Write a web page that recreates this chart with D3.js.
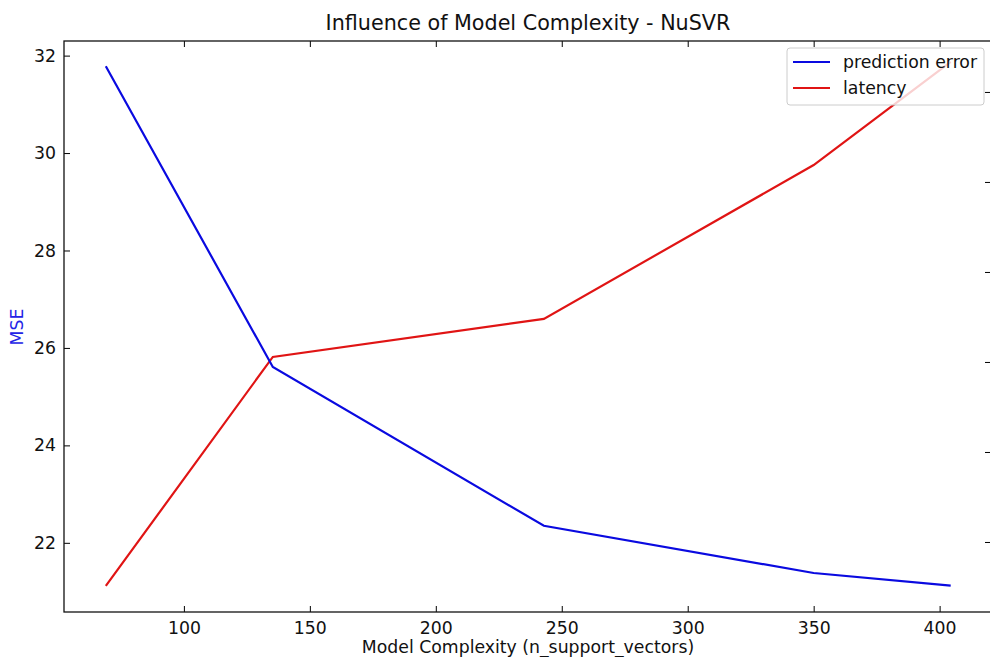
<!DOCTYPE html>
<html><head><meta charset="utf-8">
<script src="https://cdn.jsdelivr.net/npm/d3@7"></script>
<style>
html,body{margin:0;padding:0;background:#fff;}
svg{display:block;font-family:"DejaVu Sans",sans-serif;}
</style></head>
<body>
<svg id="c" width="990" height="657"></svg>
<script>
const complexity = [69.0, 135.3, 242.9, 350.0, 404.4];
const predictionError = [31.78, 25.61, 22.35, 21.38, 21.12];
const latency = [75.6, 202.8, 223.9, 309.4, 366.7];
const xTicks = [100, 150, 200, 250, 300, 350, 400];
const yTicks = [22, 24, 26, 28, 30, 32];
const latencyTicks = [100, 150, 200, 250, 300, 350];
const seriesNames = ["prediction error", "latency"];
const seriesColors = ["#0a0ae0", "#e01414"];

const svg = d3.select("#c");
const L = 64, R = 991, T = 41, B = 612;
const x = d3.scaleLinear().domain([52.4, 420.4]).range([L, R]);
const y = d3.scaleLinear().domain([20.58, 32.30]).range([B, T]);
const y2 = d3.scaleLinear().domain([61.1, 378.3]).range([B, T]);

const fs = 17.3;
// axes
const gx = svg.append("g").attr("transform", `translate(0,${B})`)
  .call(d3.axisBottom(x).tickValues(xTicks).tickSize(-6).tickPadding(10).tickFormat(d3.format("d")));
const gxt = svg.append("g").attr("transform", `translate(0,${T})`)
  .call(d3.axisTop(x).tickValues(xTicks).tickSize(-6).tickFormat(""));
const gy = svg.append("g").attr("transform", `translate(${L},0)`)
  .call(d3.axisLeft(y).tickValues(yTicks).tickSize(-6).tickPadding(8).tickFormat(d3.format("d")));
const gy2 = svg.append("g").attr("transform", `translate(${R},0)`)
  .call(d3.axisRight(y2).tickValues(latencyTicks).tickSize(-6).tickFormat(""));
[gx, gxt, gy, gy2].forEach(g => {
  g.select(".domain").remove();
  g.selectAll("line").attr("stroke", "#000").attr("stroke-width", 1);
  g.selectAll("text").attr("font-size", fs).attr("font-family", "DejaVu Sans").attr("fill", "#111");
});
gx.selectAll("text").attr("dy", "0.71em");
// spines
svg.append("rect").attr("x", L).attr("y", T).attr("width", R - L).attr("height", B - T)
  .attr("fill", "none").attr("stroke", "#111").attr("stroke-width", 1.3);

const line1 = d3.line().x((d, i) => x(complexity[i])).y(d => y(d));
const line2 = d3.line().x((d, i) => x(complexity[i])).y(d => y2(d));
svg.append("path").datum(latency).attr("d", line2).attr("fill", "none")
  .attr("stroke", seriesColors[1]).attr("stroke-width", 2.2);
svg.append("path").datum(predictionError).attr("d", line1).attr("fill", "none")
  .attr("stroke", seriesColors[0]).attr("stroke-width", 2.2);

// title & labels
svg.append("text").attr("x", 528).attr("y", 30).attr("text-anchor", "middle")
  .attr("font-size", 20.7).attr("fill", "#111").text("Influence of Model Complexity - NuSVR");
svg.append("text").attr("x", 528).attr("y", 653).attr("text-anchor", "middle")
  .attr("font-size", fs).attr("fill", "#111").text("Model Complexity (n_support_vectors)");
svg.append("text").attr("transform", "translate(23,327) rotate(-90)").attr("text-anchor", "middle")
  .attr("font-size", fs).attr("fill", "#2323e6").text("MSE");

// legend
const lg = svg.append("g");
lg.append("rect").attr("x", 787).attr("y", 48).attr("width", 197).attr("height", 57).attr("rx", 3)
  .attr("fill", "#fff").attr("fill-opacity", 0.8).attr("stroke", "#ccc").attr("stroke-width", 1);
seriesNames.forEach((n, i) => {
  const yy = 62 + i * 26;
  lg.append("line").attr("x1", 793).attr("x2", 830).attr("y1", yy).attr("y2", yy)
    .attr("stroke", seriesColors[i]).attr("stroke-width", 2.2);
  lg.append("text").attr("x", 843).attr("y", yy).attr("dy", "0.35em")
    .attr("font-size", fs).attr("fill", "#111").text(n);
});
</script>
</body></html>
